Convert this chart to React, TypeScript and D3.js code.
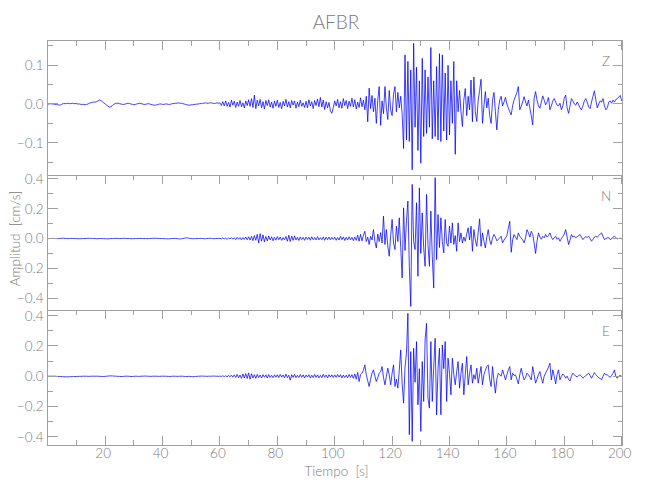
import React from 'react';
import * as d3 from 'd3';

// ---------- data ----------
const STATION = 'AFBR';
const COMPONENTS = ['Z', 'N', 'E'];
const T_STEP = 0.5; // seconds between samples, first sample at t = 0
const X_TICKS = [20, 40, 60, 80, 100, 120, 140, 160, 180, 200];
const X_MINOR = [10, 30, 50, 70, 90, 110, 130, 150, 170, 190];
const X_LABEL = 'Tiempo  [s]';
const Y_LABEL = 'Amplitud  [cm/s]';

// amplitudes in 10^-3 cm/s, one row = 10 s
const Z_MILLI = [
  0,0,1,0,0,-1,-1,-2,-3,-2,0,1,1,1,2,1,1,2,1,1,
  1,0,0,-1,-1,-1,-2,-1,0,2,3,4,5,5,6,8,10,9,6,3,
  0,-3,-6,-8,-7,-4,-1,1,2,2,1,0,-1,-1,0,1,2,1,0,-1,
  -2,-1,0,1,2,1,0,-1,-1,0,1,0,-1,-2,-3,-3,-2,-1,0,0,
  -1,-1,0,0,-1,-1,0,1,1,2,2,3,2,2,1,0,-1,-2,-3,-3,
  -2,-2,-1,-1,0,0,1,1,2,2,3,2,2,3,3,2,1,2,3,2,
  3,-4,6,-5,8,-6,4,-8,10,-3,7,-9,5,-6,9,-7,3,-10,8,-4,
  11,-6,14,-9,23,-12,10,-5,12,-10,6,-13,9,-4,11,-8,5,-11,8,-6,
  10,-9,4,-12,7,-5,12,-8,6,-10,9,-3,8,-11,5,-7,10,-6,3,-9,
  7,-10,11,-5,6,-12,9,-4,13,-7,17,-8,10,-14,6,-10,4,-18,-24,-9,
  8,-5,12,-10,6,-11,14,-4,9,-12,7,-6,15,-8,11,-13,5,-9,16,-7,
  10,-15,20,-46,41,-12,22,-20,15,-50,10,45,-55,8,-25,45,-10,-40,35,-15,
  -30,25,45,-20,30,-10,20,-25,-115,127,-93,110,-97,88,-170,157,-60,95,-120,60,
  -153,118,-84,88,-76,70,-60,146,-90,60,-84,97,-93,130,-97,127,-70,80,-93,100,
  -80,60,-50,110,-130,60,-20,35,-20,-58,10,40,-30,20,-15,62,-46,70,-20,-45,
  10,35,64,-50,-5,32,-10,15,-30,-50,10,30,-20,-67,-15,10,20,-5,5,17,
  0,-10,-20,-28,-5,10,20,30,45,-15,-5,5,19,5,-5,10,-10,-30,-54,15,
  32,10,-5,-11,5,21,10,-2,5,17,-15,-5,8,14,5,-3,-5,2,-15,-5,
  15,23,-10,-24,-5,14,8,0,-3,5,-2,-10,-15,-5,8,14,5,-8,-12,5,
  20,34,10,-10,0,8,5,14,-5,-15,-10,5,8,2,10,5,12,14,18,22,
  8,
];

const N_MILLI = [
  0,0,0,1,1,0,0,-1,0,1,2,2,1,1,0,0,1,1,0,0,
  0,-1,-1,-1,0,0,0,1,1,2,1,1,0,0,-1,-1,0,0,0,-1,
  -1,-2,-2,-1,0,0,1,1,1,0,0,0,1,1,1,1,0,0,-1,-1,
  -1,0,0,0,1,1,0,0,0,-1,0,0,1,1,2,2,1,1,0,0,
  0,-1,-1,-2,-2,-1,0,0,1,1,0,-2,-3,-2,0,2,4,5,3,1,
  0,-1,-1,0,0,0,1,1,0,-1,-1,0,1,2,1,0,-1,0,1,0,
  2,-3,4,-2,3,-5,5,-3,6,-4,5,-7,8,-5,6,-9,7,-6,10,-8,
  12,-10,15,-14,20,-12,28,-30,33,-18,25,-22,14,-16,18,-10,12,-15,9,-11,
  13,-8,10,-12,7,-9,14,-18,22,-20,16,-12,18,-10,9,-13,11,-7,8,-12,
  10,-6,9,-11,12,-8,7,-10,13,-9,6,-8,11,-12,9,-7,10,-9,8,-6,
  9,-12,7,-10,14,-8,11,-13,9,-10,12,-9,8,-14,10,-12,22,-18,28,-15,
  20,49,-20,10,-40,15,-10,60,-20,-63,30,-20,40,-30,150,-40,60,-50,-119,20,
  128,-30,-74,83,-20,139,-60,-264,206,-80,120,251,-186,-455,363,-20,-74,240,-253,340,
  -100,172,-60,-186,296,-40,-186,184,-120,-332,408,-141,161,-60,139,-20,-96,128,-30,-52,
  83,-30,105,-40,20,-85,105,-20,38,-30,10,-18,30,72,-10,83,-85,60,-10,-52,
  40,132,-52,38,-20,-63,10,60,-10,-40,5,27,10,-15,-7,5,16,-29,-10,4,
  20,70,116,-92,-10,27,10,-7,38,15,4,-10,-29,5,60,40,10,49,27,-30,
  -100,-20,38,10,-5,15,5,27,10,20,38,10,-7,5,16,-5,5,-18,0,15,
  30,60,10,-40,-10,27,10,16,5,12,20,27,10,-7,5,12,8,16,0,-18,
  -5,10,16,8,20,30,38,15,-7,0,4,6,-7,-2,10,16,5,-2,0,3,
  -2,
];

const E_MILLI = [
  0,0,0,0,0,0,-1,-1,-2,-2,-3,-3,-4,-4,-4,-3,-3,-3,-2,-2,
  -2,-1,-1,-1,0,0,0,0,-1,-1,0,0,0,0,0,0,-1,-1,-2,-2,
  -1,0,1,2,2,2,1,0,0,-1,-1,-2,-2,-1,0,0,0,-1,-2,-2,
  -1,0,0,-1,-1,0,0,1,1,0,0,-1,-1,0,0,0,0,-1,-1,0,
  0,0,0,-1,-1,-2,-1,0,0,0,-1,-1,0,0,0,-1,-2,-2,-1,-1,
  -2,-3,-3,-2,-1,0,0,1,1,0,0,-1,0,0,0,1,1,0,0,-1,
  1,-2,3,-3,4,-5,6,-4,7,-6,9,-8,12,-10,8,-14,15,-12,18,-15,
  22,-20,16,-12,10,-14,12,-9,8,-11,10,-7,9,-12,11,-8,6,-10,9,-7,
  10,-9,12,-6,8,-11,14,-9,7,-26,10,-8,12,-10,6,-9,11,-7,9,-12,
  8,-6,10,-13,7,-9,12,-8,9,-11,6,-10,13,-7,8,-12,10,-6,9,-8,
  9,-8,11,-6,10,-12,8,-9,7,-11,12,-8,10,-14,15,-20,25,-35,10,20,
  40,75,10,-30,-68,-20,20,42,0,-35,-10,20,30,64,-10,-57,0,53,10,-57,
  20,75,-68,-20,-79,40,174,-50,-178,60,152,416,-387,163,-431,185,-40,229,-189,50,
  -365,97,-167,240,350,-145,-211,229,-167,60,251,-255,50,185,-255,207,50,229,-167,119,
  20,-123,119,10,-57,30,97,-79,20,86,-123,10,130,-57,20,75,-46,10,-20,53,
  -46,10,64,-57,10,40,64,75,-20,-68,64,-30,-112,-20,20,10,0,42,10,-24,
  10,40,64,-24,20,5,9,-20,-51,10,53,10,-24,-10,20,10,-5,-24,64,10,
  -46,-20,10,31,-10,-46,0,20,40,60,86,-24,42,0,-51,10,42,-24,0,15,
  5,-13,0,-20,-31,0,20,10,0,-5,5,9,0,-13,-5,5,12,20,5,-13,
  5,24,10,0,-10,-15,-24,0,20,9,9,0,-7,5,20,42,-5,-13,0,5,
  0,
];

const SERIES = [Z_MILLI, N_MILLI, E_MILLI];
// vertical axis ranges [min, max] in cm/s
const Z_RANGE = [-0.1835, 0.1641];
const N_RANGE = [-0.479, 0.426];
const E_RANGE = [-0.455, 0.438];
const RANGES = [Z_RANGE, N_RANGE, E_RANGE];
const Z_TICKS = [-0.1, 0.0, 0.1];
const Z_MINOR = [-0.15, -0.05, 0.05, 0.15];
const NE_TICKS = [-0.4, -0.2, 0.0, 0.2, 0.4];
const NE_MINOR = [-0.3, -0.1, 0.1, 0.3];
const MAJOR_TICKS = [Z_TICKS, NE_TICKS, NE_TICKS];
const MINOR_TICKS = [Z_MINOR, NE_MINOR, NE_MINOR];

// ---------- chart ----------
const W = 650;
const H = 500;
const LEFT = 47.5;
const RIGHT = 622.8;
const TOPS = [40.5, 175, 310];
const BOTTOMS = [175, 310, 445];
const AXIS = '#a0a0a0';
const TEXT = '#7a7a7a';
const FONT = "Lato, 'Liberation Sans Narrow', 'DejaVu Sans Condensed', sans-serif";

const fmt = (v: number) => {
  const s = Math.abs(v).toFixed(1);
  return v < -1e-9 ? '\u2212' + s : s;
};

export default function App() {
  const x = d3.scaleLinear().domain([0, 200.4]).range([47.8, 622.8]);

  return (
    <svg width={W} height={H} style={{ position: 'absolute', left: 0, top: 0, background: '#fff' }}
      fontFamily={FONT} fontWeight={300}>
      <rect width={W} height={H} fill="#fff" />
      <defs>
        {COMPONENTS.map((c, k) => (
          <clipPath id={'clip' + c} key={c}>
            <rect x={LEFT} y={TOPS[k]} width={RIGHT - LEFT} height={BOTTOMS[k] - TOPS[k]} />
          </clipPath>
        ))}
      </defs>
      <text x={336} y={29} textAnchor="middle" fontSize={19} fill={TEXT}>{STATION}</text>
      {COMPONENTS.map((c, k) => {
        const y = d3.scaleLinear().domain(RANGES[k]).range([BOTTOMS[k], TOPS[k]]);
        const line = d3.line<number>()
          .x((_, i) => x(i * T_STEP))
          .y((v) => y(v / 1000));
        const top = TOPS[k];
        const bot = BOTTOMS[k];
        return (
          <g key={c}>
            <path d={line(SERIES[k]) || ''} fill="none" stroke="#0000ff" strokeWidth={0.75}
              strokeLinejoin="round" clipPath={`url(#clip${c})`} />
            <g stroke={AXIS} strokeWidth={1} shapeRendering="crispEdges" fill="none">
              <rect x={LEFT} y={top} width={RIGHT - LEFT} height={bot - top} />
              {X_TICKS.map((t) => (
                <line key={'tx' + t} x1={x(t)} x2={x(t)} y1={top} y2={top + 9} />
              ))}
              {X_MINOR.map((t) => (
                <line key={'tm' + t} x1={x(t)} x2={x(t)} y1={top} y2={top + 5} />
              ))}
              {k === 2 && X_TICKS.map((t) => (
                <line key={'bx' + t} x1={x(t)} x2={x(t)} y1={bot} y2={bot - 9} />
              ))}
              {k === 2 && X_MINOR.map((t) => (
                <line key={'bm' + t} x1={x(t)} x2={x(t)} y1={bot} y2={bot - 5} />
              ))}
              {MAJOR_TICKS[k].map((v) => (
                <g key={'ym' + v}>
                  <line x1={LEFT} x2={LEFT + 10} y1={y(v)} y2={y(v)} />
                  <line x1={RIGHT} x2={RIGHT - 10} y1={y(v)} y2={y(v)} />
                </g>
              ))}
              {MINOR_TICKS[k].map((v) => (
                <g key={'yn' + v}>
                  <line x1={LEFT} x2={LEFT + 5} y1={y(v)} y2={y(v)} />
                  <line x1={RIGHT} x2={RIGHT - 5} y1={y(v)} y2={y(v)} />
                </g>
              ))}
            </g>
            {MAJOR_TICKS[k].map((v) => (
              <text key={'yl' + v} x={LEFT - 4} y={y(v)} dy="0.36em" textAnchor="end"
                fontSize={13.5} fill={TEXT}>{fmt(v)}</text>
            ))}
            <text x={606} y={top + 25.5} textAnchor="middle" fontSize={13.5} fill={TEXT}>{c}</text>
          </g>
        );
      })}
      {X_TICKS.map((t) => (
        <text key={'xl' + t} x={x(t) - 2} y={458} textAnchor="middle" fontSize={13.5} fill={TEXT}>{t}</text>
      ))}
      <text x={336.5} y={476} textAnchor="middle" fontSize={13.5} fill={TEXT} xmlSpace="preserve">{X_LABEL}</text>
      <text transform="translate(19.5,238.5) rotate(-90)" textAnchor="middle" fontSize={13.5} fill={TEXT}
        xmlSpace="preserve">{Y_LABEL}</text>
    </svg>
  );
}
